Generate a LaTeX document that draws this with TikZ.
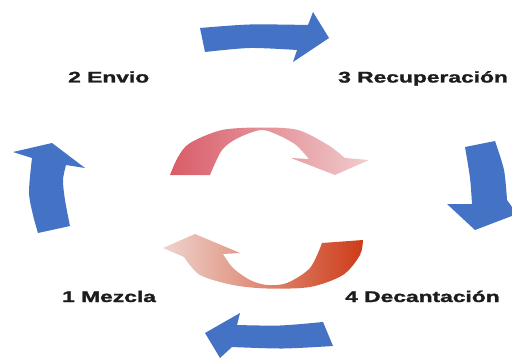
\documentclass[tikz,border=0pt]{standalone}
\usepackage{fontspec}
\setmainfont{Liberation Sans}[BoldFeatures={FakeBold=1.3}]
\definecolor{cycleblue}{RGB}{68,114,196}
\definecolor{redA}{RGB}{217,92,104}
\definecolor{redB}{RGB}{240,204,206}
\definecolor{redC}{RGB}{238,212,206}
\definecolor{redD}{RGB}{206,60,24}
\definecolor{labeltext}{RGB}{28,28,28}
\tikzset{
  bluearrow/.style={fill=cycleblue},
  steplabel/.style={anchor=base west, inner sep=0pt, text=labeltext,
    font=\fontsize{15.4}{18}\selectfont\bfseries},
}
\newcommand{\widetext}[1]{\scalebox{1.48}[1]{#1}}
\begin{document}
\begin{tikzpicture}[x=1pt,y=-1pt]
\useasboundingbox (0,0) rectangle (512,361);

% outer cycle of blue block arrows
\fill[bluearrow] (205,52) -- plot[smooth] coordinates {(200,28) (250,24.5) (308,25)}
  -- (313,12) -- (329,38) -- (293,62)
  -- plot[smooth] coordinates {(297,50) (250,48) (205,52)} -- cycle;

\fill[bluearrow] plot[smooth] coordinates {(472,204) (470,178) (465,147)}
  -- plot[smooth] coordinates {(495,141) (504,170) (507,200)}
  -- (517,214) -- (475,230) -- (447,204) -- cycle;

\fill[bluearrow] (205,333) -- (240,313)
  -- plot[smooth] coordinates {(237,325) (280,325.5) (323,322)}
  -- plot[smooth] coordinates {(333,346) (283,348.5) (232,347)}
  -- (220,358) -- cycle;

\fill[bluearrow] (52,143) -- (13,152)
  -- plot[smooth] coordinates {(32,158) (29,192) (33,215) (38,233)}
  -- plot[smooth] coordinates {(70,226) (65,200) (63,180) (66,165)}
  -- (85,168) -- cycle;

% inner pair of twisted red arrows
\shade[left color=redA, right color=redB]
  plot[smooth] coordinates {(170,175) (178,157) (190,143) (222,130) (262,127.5) (298,130) (328,145) (345,158)}
  -- (369,160) -- (335,175) -- (291,158)
  -- plot[smooth] coordinates {(309,159) (296,145) (278,135) (261,130) (238,138) (222,150) (210,175)}
  -- cycle;

\shade[left color=redC, right color=redD]
  (163,248) -- (195,234) -- (240,253)
  -- plot[smooth] coordinates {(223,254) (233,268) (250,280) (267,285) (287,283) (310,268) (322,243)}
  -- plot[smooth] coordinates {(363,240) (360,255) (343,275) (310,287) (267,288.5) (233,285) (200,275) (184,257)}
  -- cycle;

% step labels
\node[steplabel] (envio) at (68,82.5) {\widetext{2 Envio}};
\node[steplabel] (recup) at (338,82.5) {\widetext{3 Recuperación}};
\node[steplabel] (mezcla) at (62,302) {\widetext{1 Mezcla}};
\node[steplabel] (decant) at (345,302) {\widetext{4 Decantación}};
\end{tikzpicture}
\end{document}
